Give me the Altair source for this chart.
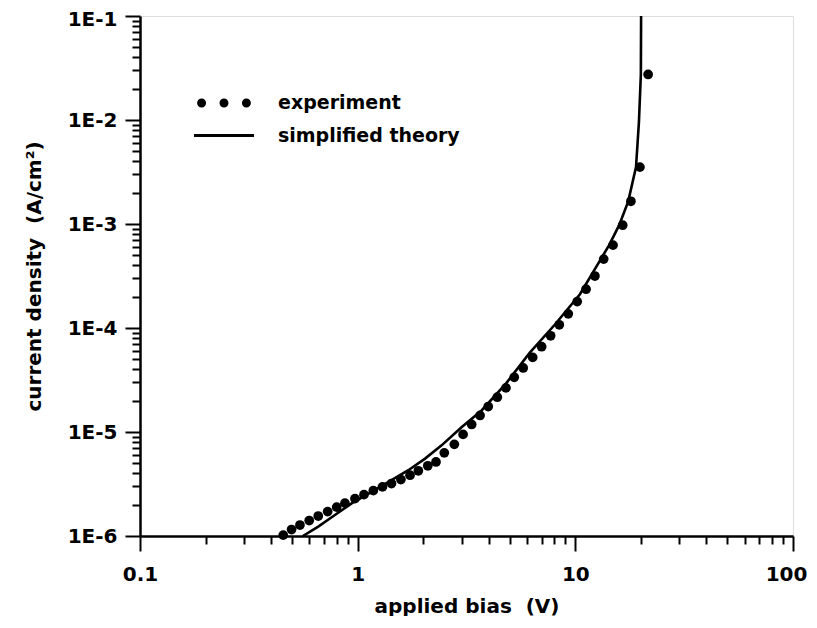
import altair as alt
import pandas as pd

# experiment
exp_bias = [0.455, 0.497, 0.543, 0.599, 0.659, 0.728, 0.801, 0.874, 0.972, 1.069,
            1.18, 1.30, 1.43, 1.58, 1.74, 1.90, 2.10, 2.29, 2.50, 2.78,
            3.05, 3.34, 3.65, 3.98, 4.38, 4.80, 5.24, 5.76, 6.37, 7.00,
            7.70, 8.44, 9.28, 10.2, 11.2, 12.3, 13.5, 14.9, 16.5, 18.0,
            19.8, 21.6]
exp_j = [1.02e-6, 1.154e-6, 1.275e-6, 1.408e-6, 1.555e-6, 1.717e-6, 1.896e-6, 2.07e-6, 2.287e-6, 2.497e-6,
         2.728e-6, 2.966e-6, 3.197e-6, 3.492e-6, 3.84e-6, 4.24e-6, 4.735e-6, 5.148e-6, 6.30e-6, 7.605e-6,
         9.48e-6, 1.182e-5, 1.442e-5, 1.758e-5, 2.159e-5, 2.656e-5, 3.356e-5, 4.128e-5, 5.217e-5, 6.605e-5,
         8.42e-5, 1.073e-4, 1.368e-4, 1.794e-4, 2.359e-4, 3.16e-4, 4.60e-4, 6.26e-4, 9.74e-4, 1.654e-3,
         3.52e-3, 2.74e-2]

# simplified theory
th_bias = [0.56, 0.659, 0.786, 0.938, 1.16, 1.43, 1.71, 2.04, 2.43, 3.00, 3.71, 4.8,
           6.18, 8.06, 10.5, 13.2, 14.3, 15.9, 17.5, 19.0, 19.6, 20.0, 20.05]
th_j = [1.0e-6, 1.23e-6, 1.59e-6, 2.06e-6, 2.66e-6, 3.44e-6, 4.29e-6, 5.55e-6, 7.44e-6, 1.11e-5, 1.61e-5, 2.92e-5,
        5.79e-5, 1.08e-4, 2.11e-4, 4.73e-4, 6.26e-4, 9.74e-4, 1.65e-3, 3.52e-3, 9.65e-3, 2.74e-2, 1.0e-1]

series_names = ["experiment", "simplified theory"]

x_ticks = [m * 10.0 ** e for e in [-1, 0, 1] for m in range(1, 10)] + [100.0]
y_ticks = [m * 10.0 ** e for e in [-6, -5, -4, -3, -2] for m in range(1, 10)] + [0.1]

exp_df = pd.DataFrame({"bias": exp_bias, "j": exp_j})
th_df = pd.DataFrame({"bias": th_bias, "j": th_j, "i": list(range(len(th_bias)))})
leg_df = pd.DataFrame({"series": series_names})

FONT = "DejaVu Sans"
NB = "\u00a0"
is_major = "abs(log(datum.value)/LN10 - round(log(datum.value)/LN10)) < 0.000001"

x_scale = alt.Scale(type="log", domain=[0.1, 100], nice=False)
y_scale = alt.Scale(type="log", domain=[1e-6, 1e-1], nice=False)

x_axis = alt.Axis(
    title=f"applied bias{NB}{NB}(V)", values=x_ticks, grid=False,
    labelExpr=f"({is_major}) ? format(datum.value, '~g') : ''",
    tickSize={"condition": {"test": is_major, "value": 15}, "value": 8},
    labelOffset={"condition": {"test": "datum.value > 50", "value": -7}, "value": 0},
    tickWidth=2, tickColor="black", domainColor="black", domainWidth=2.5,
    labelFont=FONT, labelFontSize=20, labelFontWeight="bold", labelColor="black",
    labelPadding=13, labelFlush=False, labelOverlap=False,
    titleFont=FONT, titleFontSize=20, titleFontWeight="bold", titleColor="black",
    titlePadding=12,
)
y_axis = alt.Axis(
    title=f"current density{NB}{NB}(A/cm²)", values=y_ticks, grid=False,
    labelExpr=f"({is_major}) ? '1E' + round(log(datum.value)/LN10) : ''",
    tickSize={"condition": {"test": is_major, "value": 15}, "value": 8},
    labelOffset={"condition": {"test": "datum.value > 0.05", "value": 3}, "value": 0},
    tickWidth=2, tickColor="black", domainColor="black", domainWidth=2.5,
    labelFont=FONT, labelFontSize=20, labelFontWeight="bold", labelColor="black",
    labelPadding=8, labelFlush=False, labelOverlap=False,
    titleFont=FONT, titleFontSize=20, titleFontWeight="bold", titleColor="black",
    titlePadding=23,
)

r = 0.257
def circ(cx):
    return f"M{cx - r:.3f},0a{r},{r} 0 1,0 {2 * r:.3f},0a{r},{r} 0 1,0 {-2 * r:.3f},0Z"
dots_path = " ".join(circ(c) for c in [-1.28, 0.0, 1.28])
bar_path = "M-1.714,-0.086H1.714V0.086H-1.714Z"

theory = alt.Chart(th_df).mark_line(color="black", strokeWidth=2.6, clip=True).encode(
    x=alt.X("bias:Q", scale=x_scale, axis=x_axis),
    y=alt.Y("j:Q", scale=y_scale, axis=y_axis),
    order="i:Q",
)

points = alt.Chart(exp_df).mark_circle(color="black", size=95, opacity=1).encode(
    x=alt.X("bias:Q", scale=x_scale, axis=x_axis),
    y=alt.Y("j:Q", scale=y_scale, axis=y_axis),
)

legend = alt.Chart(leg_df).mark_point(filled=True, color="black", opacity=0, size=1225).encode(
    x=alt.value(0),
    y=alt.value(0),
    shape=alt.Shape(
        "series:N",
        scale=alt.Scale(domain=series_names, range=[dots_path, bar_path]),
        legend=alt.Legend(
            title=None, orient="none", legendX=66.5, legendY=69.5,
            padding=0, rowPadding=4.5, symbolSize=1225, symbolOpacity=1,
            symbolFillColor="black", symbolStrokeWidth=0,
            labelFont=FONT, labelFontSize=19, labelFontWeight="bold",
            labelColor="black", labelOffset=36.5, labelLimit=400,
        ),
    ),
)

chart = alt.layer(theory, points, legend).properties(
    width=653, height=520,
    autosize=alt.AutoSizeParams(type="none"),
    padding={"left": 132, "top": 8, "right": 16, "bottom": 80},
).configure_view(stroke="black", strokeWidth=2.5).configure(background="white")

chart.save("out.html", embed_options={"renderer": "svg", "actions": False})
